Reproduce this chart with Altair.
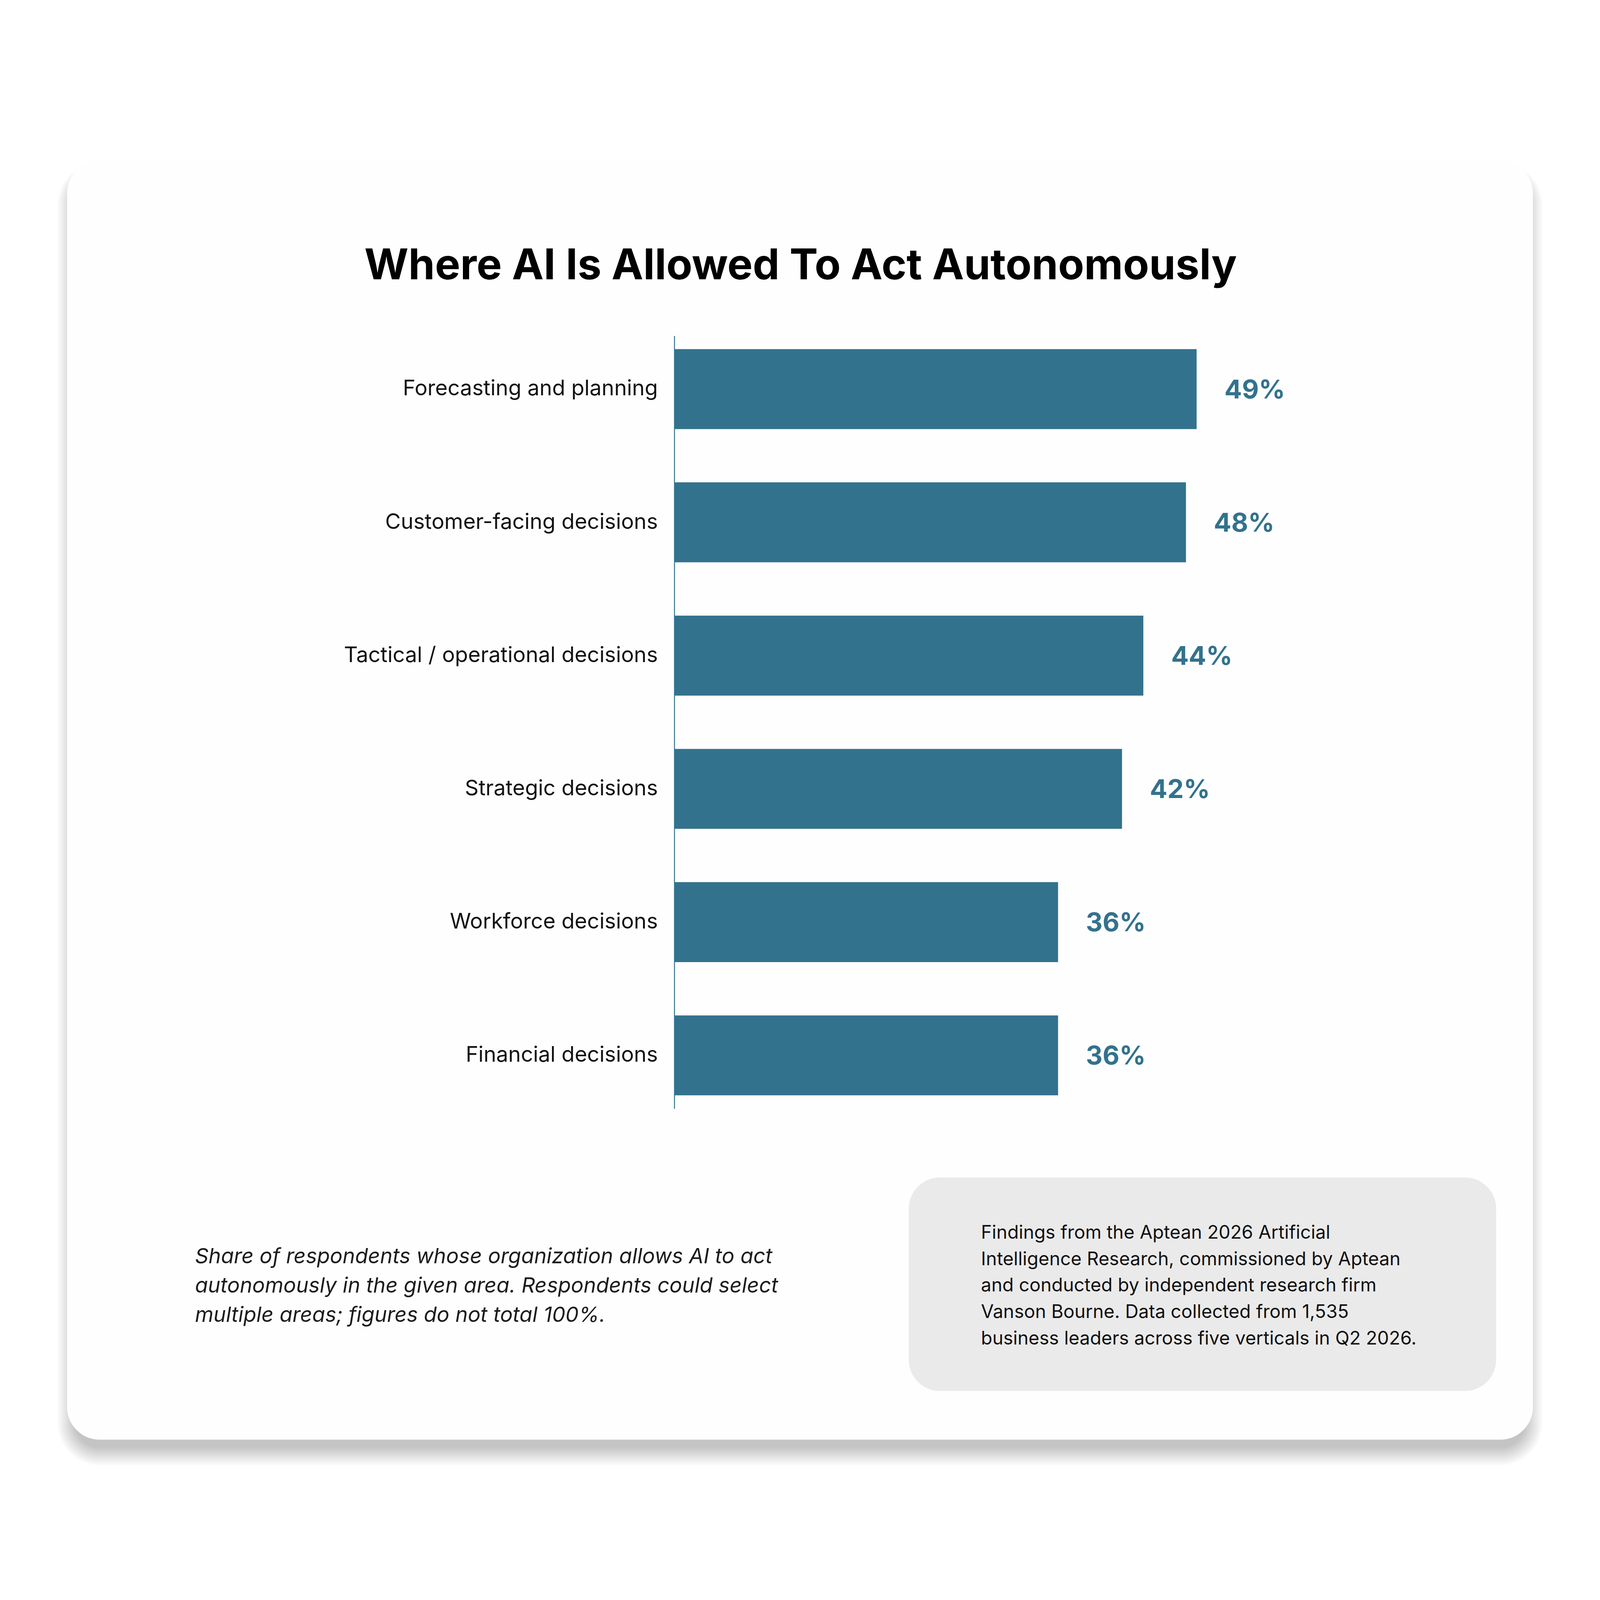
import altair as alt
import pandas as pd

# ---------------- data ----------------
categories = [
    "Forecasting and planning",
    "Customer-facing decisions",
    "Tactical / operational decisions",
    "Strategic decisions",
    "Workforce decisions",
    "Financial decisions",
]
values = [49, 48, 44, 42, 36, 36]

title_text = "Where AI Is Allowed To Act Autonomously"
note_lines = [
    "Share of respondents whose organization allows AI to act",
    "autonomously in the given area. Respondents could select",
    "multiple areas; figures do not total 100%.",
]
source_lines = [
    "Findings from the Aptean 2026 Artificial",
    "Intelligence Research, commissioned by Aptean",
    "and conducted by independent research firm",
    "Vanson Bourne. Data collected from 1,535",
    "business leaders across five verticals in Q2 2026.",
]

# ---------------- style / layout ----------------
TEAL = "#33728D"
FONT = "Inter"
W_TOTAL = 4984
H_TOTAL = 4200
TOP_SHIFT = 472              # where the chart's top edge lands in the picture


def px(v):
    return v - 8


def py(v):
    return v - TOP_SHIFT


AXIS_X = px(2107)
Y_TOP, Y_BOT = py(1047), py(3464)

one = pd.DataFrame({"k": [0]})


def rect(x0, y0, x1, y1, color, radius, opacity=1.0):
    return alt.Chart(one).mark_rect(
        fill=color, fillOpacity=opacity, cornerRadius=radius, strokeWidth=0
    ).encode(
        x=alt.value(px(x0)), x2=alt.value(px(x1)),
        y=alt.value(py(y0)), y2=alt.value(py(y1)),
    )


# soft drop shadow (mostly below the card) from stacked translucent rounded rects
shadow_layers = []
for i in range(12):
    g = 5 * i
    gx = g - 25
    shadow_layers.append(
        rect(208 - gx, 540 - 0.6 * g, 4792 + gx, 4499 + 25 + g,
             "#000000", max(60, 102 + gx), 0.018)
    )

card = rect(208, 500, 4792, 4499, "#FEFEFE", 102)
box = rect(2840, 3679, 4677, 4347, "#EAEAEA", 98)

df = pd.DataFrame({"category": categories, "value": values})

base = alt.Chart(df).encode(
    y=alt.Y(
        "category:N",
        sort=categories,
        scale=alt.Scale(range=[Y_TOP, Y_BOT], paddingInner=0.4, paddingOuter=0.1),
        axis=alt.Axis(
            title=None, ticks=False, offset=-AXIS_X, labelPadding=52,
            labelFont=FONT, labelFontSize=67, labelColor="#111111", labelLimit=3000,
            domainColor=TEAL, domainWidth=3, grid=False, zindex=1,
        ),
    ),
    x=alt.X("value:Q", scale=alt.Scale(domain=[0, 60], range=[AXIS_X, AXIS_X + 2000]),
            axis=None),
)

bars = base.mark_bar(color=TEAL)

value_labels = base.transform_calculate(lbl="datum.value + '%'").mark_text(
    align="left", baseline="middle", dx=87, dy=5,
    font=FONT, fontSize=81, fontWeight=700, color=TEAL,
).encode(text="lbl:N")

title = alt.Chart(one).mark_text(
    text=title_text, font=FONT, fontSize=133, fontWeight=700, color="#000000",
    align="center", baseline="alphabetic",
).encode(x=alt.value(px(2502)), y=alt.value(py(870)))

note = alt.Chart(one).mark_text(
    text=note_lines, font=FONT, fontSize=66, fontStyle="italic", color="#1c1c1c",
    align="left", baseline="alphabetic", lineHeight=92,
).encode(x=alt.value(px(608)), y=alt.value(py(3947)))

source = alt.Chart(one).mark_text(
    text=source_lines, font=FONT, fontSize=58, color="#111111",
    align="left", baseline="alphabetic", lineHeight=83,
).encode(x=alt.value(px(3066)), y=alt.value(py(3870)))

chart = alt.layer(
    *shadow_layers, card, box, bars, value_labels, title, note, source
).properties(
    width=W_TOTAL,
    height=H_TOTAL,
    padding=0,
    autosize=alt.AutoSizeParams(type="none"),
    background="#FFFFFF",
).configure_view(stroke=None)

chart.save("out.html", embed_options={"renderer": "svg", "actions": False})
